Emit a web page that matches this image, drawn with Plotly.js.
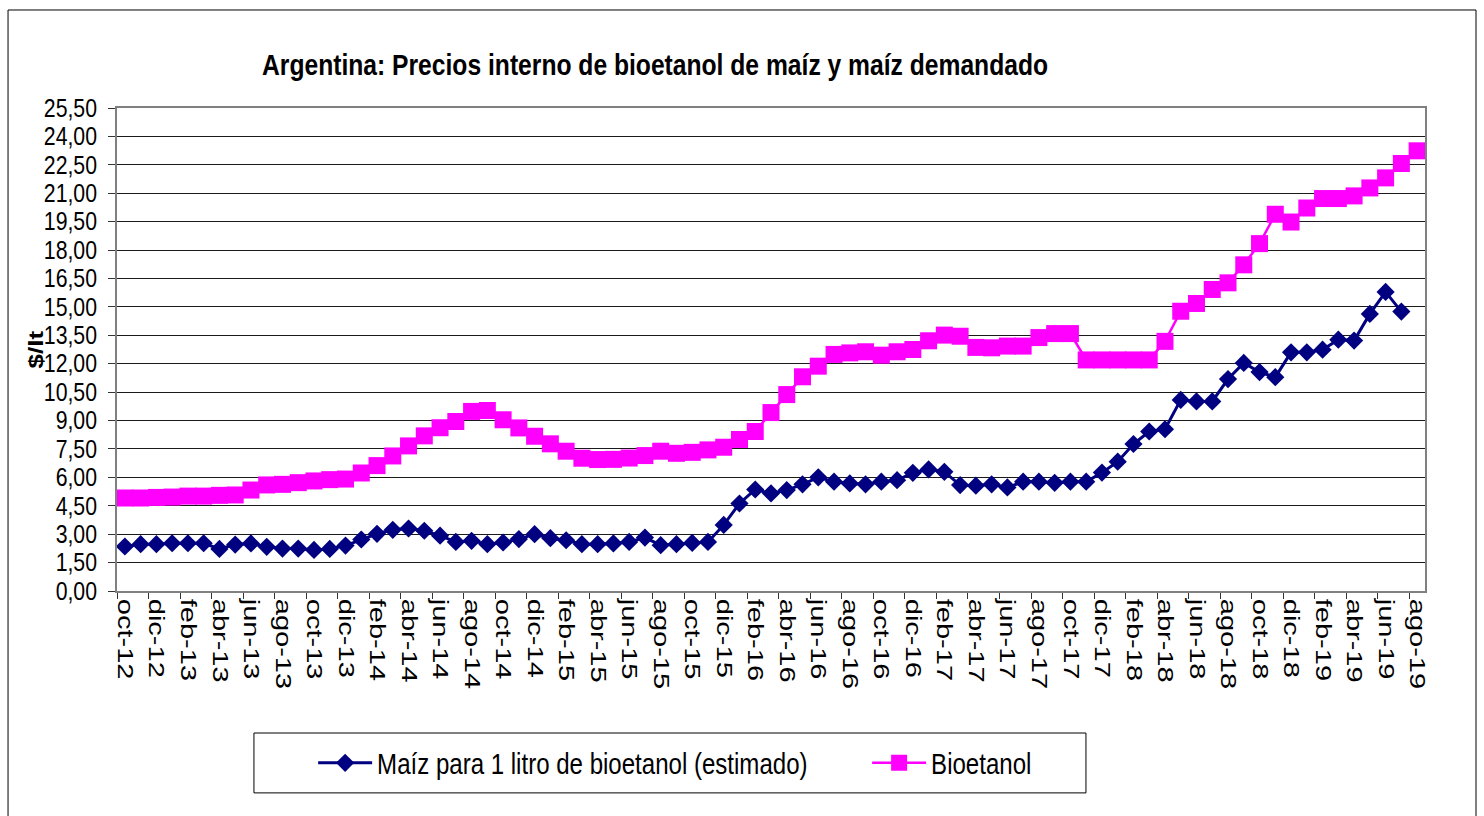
<!DOCTYPE html>
<html>
<head>
<meta charset="utf-8">
<script src="https://cdn.plot.ly/plotly-3.0.1.min.js"></script>
<style>html,body{margin:0;padding:0;background:#fff;}#chart{width:1484px;height:816px;}</style>
</head>
<body>
<div id="chart"></div>
<script>
const months = ['oct-12','nov-12','dic-12','ene-13','feb-13','mar-13','abr-13','may-13','jun-13','jul-13','ago-13','sep-13',
'oct-13','nov-13','dic-13','ene-14','feb-14','mar-14','abr-14','may-14','jun-14','jul-14','ago-14','sep-14',
'oct-14','nov-14','dic-14','ene-15','feb-15','mar-15','abr-15','may-15','jun-15','jul-15','ago-15','sep-15',
'oct-15','nov-15','dic-15','ene-16','feb-16','mar-16','abr-16','may-16','jun-16','jul-16','ago-16','sep-16',
'oct-16','nov-16','dic-16','ene-17','feb-17','mar-17','abr-17','may-17','jun-17','jul-17','ago-17','sep-17',
'oct-17','nov-17','dic-17','ene-18','feb-18','mar-18','abr-18','may-18','jun-18','jul-18','ago-18','sep-18',
'oct-18','nov-18','dic-18','ene-19','feb-19','mar-19','abr-19','may-19','jun-19','jul-19','ago-19'];

const maiz = [2.35,2.47,2.47,2.52,2.52,2.52,2.22,2.45,2.51,2.33,2.24,2.24,
2.17,2.22,2.40,2.72,3.02,3.23,3.30,3.18,2.92,2.59,2.65,2.47,
2.56,2.74,3.00,2.79,2.68,2.47,2.47,2.51,2.59,2.82,2.42,2.47,
2.54,2.59,3.49,4.62,5.36,5.15,5.33,5.63,6.00,5.77,5.68,5.63,
5.77,5.85,6.24,6.42,6.29,5.59,5.56,5.63,5.47,5.77,5.77,5.71,
5.77,5.77,6.25,6.83,7.76,8.42,8.54,10.09,10.01,10.01,11.19,12.04,
11.56,11.29,12.60,12.60,12.74,13.27,13.22,14.63,15.79,14.75,null];

const bioetanol = [4.91,4.91,4.94,4.96,5.01,5.01,5.05,5.07,5.33,5.60,5.63,5.72,
5.81,5.88,5.91,6.23,6.62,7.13,7.66,8.19,8.62,8.95,9.48,9.53,
9.04,8.61,8.17,7.77,7.38,7.01,6.94,6.95,7.02,7.15,7.38,7.27,
7.32,7.45,7.59,8.00,8.42,9.42,10.37,11.31,11.87,12.49,12.57,12.63,
12.45,12.63,12.75,13.21,13.51,13.45,12.86,12.84,12.93,12.93,13.38,13.59,
13.59,12.20,12.20,12.20,12.20,12.20,13.18,14.77,15.18,15.92,16.27,17.22,
18.34,19.89,19.48,20.22,20.72,20.72,20.86,21.28,21.81,22.57,23.24];

const seriesNames = ['Maíz para 1 litro de bioetanol (estimado)', 'Bioetanol'];
const titleText = 'Argentina: Precios interno de bioetanol de maíz y maíz demandado';
const yTitle = '$/lt';

const SANS = '"Liberation Sans", Arial, sans-serif';

const traces = [
  {
    x: months, y: maiz, name: seriesNames[0], type: 'scatter', mode: 'lines+markers',
    line: {color: '#000080', width: 3},
    marker: {symbol: 'diamond', size: 14, color: '#000080', line: {width: 0}},
    connectgaps: false
  },
  {
    x: months, y: bioetanol, name: seriesNames[1], type: 'scatter', mode: 'lines+markers',
    line: {color: '#FF00FF', width: 2.5},
    marker: {symbol: 'square', size: 17, color: '#FF00FF', line: {width: 0}}
  }
];

const layout = {
  width: 1484, height: 816,
  margin: {l: 117, r: 59, t: 108, b: 225},
  paper_bgcolor: '#ffffff', plot_bgcolor: '#ffffff',
  separators: ',.',
  showlegend: true,
  title: {
    text: '<b>' + titleText + '</b>',
    font: {family: SANS, size: 29, color: '#000'},
    xref: 'container', yref: 'container', x: 0.4414, xanchor: 'center', y: 0.921, yanchor: 'middle'
  },
  xaxis: {
    type: 'category',
    range: [-0.5, 82.5],
    dtick: 2,
    tickson: 'boundaries',
    ticks: 'outside', ticklen: 6, tickcolor: '#333', tickwidth: 1,
    tickangle: 90,
    tickfont: {family: SANS, size: 29, color: '#000'},
    showgrid: false,
    showline: true, linecolor: '#808080', linewidth: 2, mirror: true,
    zeroline: false, fixedrange: true
  },
  yaxis: {
    range: [0, 25.5],
    dtick: 1.5, tick0: 0,
    tickformat: '.2f',
    ticks: 'outside', ticklen: 7, tickcolor: '#333', tickwidth: 1,
    ticklabelstandoff: 6,
    tickfont: {family: SANS, size: 25, color: '#000'},
    showgrid: true, gridcolor: '#1a1a1a', gridwidth: 1,
    showline: true, linecolor: '#808080', linewidth: 2, mirror: true,
    zeroline: false,
    fixedrange: true
  },
  annotations: [
    {text: '<b>' + yTitle + '</b>', xref: 'paper', yref: 'paper', x: -0.0627, y: 0.5,
     xanchor: 'center', yanchor: 'middle', textangle: -90, showarrow: false,
     font: {family: SANS, size: 26, color: '#000'}}
  ],
  legend: {
    orientation: 'h',
    xref: 'container', yref: 'container',
    x: 0.211, xanchor: 'left', y: 0.065, yanchor: 'middle',
    font: {family: SANS, size: 29, color: '#000'},
    bgcolor: 'rgba(0,0,0,0)', borderwidth: 0,
    entrywidth: 485, entrywidthmode: 'pixels',
    itemwidth: 54
  },
  shapes: [
    {type: 'rect', xref: 'paper', yref: 'paper', x0: -0.0833, x1: 1.0390, y0: -0.52, y1: 1.2029,
     line: {color: '#000', width: 1}, fillcolor: 'rgba(0,0,0,0)', layer: 'below'},
    {type: 'rect', xref: 'paper', yref: 'paper', x0: 0.1047, x1: 0.7408, y0: -0.418, y1: -0.294,
     line: {color: '#000', width: 1}, fillcolor: 'rgba(0,0,0,0)', layer: 'below'}
  ]
};

// narrow the glyphs (the reference uses a condensed face) while keeping text as text
function squeeze(el, sx, sy, ax, ay) {
  const bb = el.getBBox();
  const px = bb.x + bb.width * ax, py = bb.y + bb.height * ay;
  const t = el.getAttribute('transform') || '';
  el.setAttribute('transform', t + ' translate(' + px + ',' + py + ') scale(' + sx + ',' + sy + ') translate(' + (-px) + ',' + (-py) + ')');
}

Plotly.newPlot('chart', traces, layout, {displayModeBar: false, staticPlot: true}).then(function () {
  document.querySelectorAll('.gtitle').forEach(function (el) { squeeze(el, 0.85, 1, 0.5, 0.5); });
  document.querySelectorAll('.ytick text').forEach(function (el) { squeeze(el, 0.85, 1, 1, 0.5); });
  document.querySelectorAll('.xtick text').forEach(function (el) { squeeze(el, 1, 0.75, 0, 0.5); });
  document.querySelectorAll('.legendtext').forEach(function (el) { squeeze(el, 0.83, 1, 0, 0.5); });
  document.querySelectorAll('.annotation-text').forEach(function (el) { squeeze(el, 1, 0.8, 0.5, 0.5); });
});
</script>
</body>
</html>
